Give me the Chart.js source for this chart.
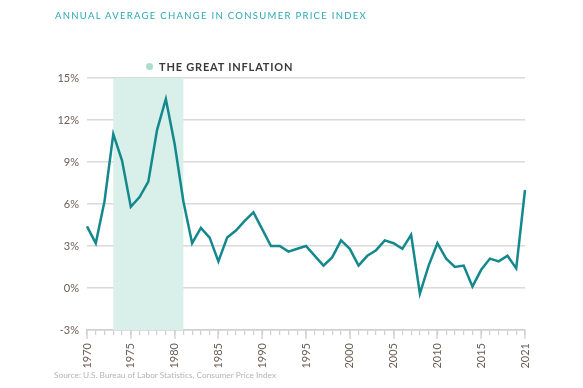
<!DOCTYPE html>
<html>
<head>
<meta charset="utf-8">
<script src="https://cdn.jsdelivr.net/npm/chart.js@4"></script>
<style>
  html, body { margin: 0; padding: 0; background: #fff; }
  #wrap { position: relative; width: 583px; height: 388px; overflow: hidden; }
  #grafico { position: absolute; left: 0; top: 0; }
  .titolo { position: absolute; left: 55px; top: 10px; font: 9.5px Lato, sans-serif; letter-spacing: 1.3px; color: #2aa8b6; white-space: nowrap; }
  .legenda { position: absolute; left: 146px; top: 60px; font: bold 11px Lato, sans-serif; letter-spacing: 0.8px; color: #3b3b3b; white-space: nowrap; }
  .legenda span { display: inline-block; width: 7px; height: 7px; border-radius: 50%; background: #a9ddd0; margin-right: 6px; vertical-align: 1px; }
  .fonte { position: absolute; left: 54px; top: 370px; font: 8.3px Lato, sans-serif; color: #b4b4b4; white-space: nowrap; }
</style>
</head>
<body>
<div id="wrap">
  <canvas id="grafico" width="583" height="388"></canvas>
  <div class="titolo">ANNUAL AVERAGE CHANGE IN CONSUMER PRICE INDEX</div>
  <div class="legenda"><span></span>THE GREAT INFLATION</div>
  <div class="fonte">Source: U.S. Bureau of Labor Statistics, Consumer Price Index</div>
</div>
<script>
// anni sull'asse (l'ultimo e' etichettato 2021 come nell'originale)
var anni = [];
for (var a = 1970; a <= 2019; a++) anni.push(String(a));
anni.push('2021');

var etichette = ['1970', '1975', '1980', '1985', '1990', '1995', '2000', '2005', '2010', '2015', '2021'];

var inflazione = [4.4, 3.2, 6.2, 11.0, 9.1, 5.8, 6.5, 7.6, 11.3, 13.5,
                  10.3, 6.2, 3.2, 4.3, 3.6, 1.9, 3.6, 4.1, 4.8, 5.4,
                  4.2, 3.0, 3.0, 2.6, 2.8, 3.0, 2.3, 1.6, 2.2, 3.4,
                  2.8, 1.6, 2.3, 2.7, 3.4, 3.2, 2.8, 3.8, -0.4, 1.6,
                  3.2, 2.1, 1.5, 1.6, 0.1, 1.3, 2.1, 1.9, 2.3, 1.4,
                  7.0];

var periodo = ['1973', '1981'];

// fascia della grande inflazione + tacche grandi sull'asse x
var fascia = {
    id: 'fascia',
    beforeDatasetsDraw: function (chart) {
        var ctx = chart.ctx;
        var x = chart.scales.x;
        var area = chart.chartArea;
        var x1 = x.getPixelForValue(anni.indexOf(periodo[0]));
        var x2 = x.getPixelForValue(anni.indexOf(periodo[1]));
        ctx.save();
        ctx.fillStyle = '#d9efe9';
        ctx.fillRect(x1, area.top, x2 - x1, area.bottom - area.top);
        ctx.restore();
    },
    afterDraw: function (chart) {
        var ctx = chart.ctx;
        var x = chart.scales.x;
        var area = chart.chartArea;
        ctx.save();
        ctx.strokeStyle = '#cfcfcf';
        ctx.lineWidth = 1.3;
        etichette.forEach(function (e) {
            var px = Math.round(x.getPixelForValue(anni.indexOf(e)));
            ctx.beginPath();
            ctx.moveTo(px, area.bottom);
            ctx.lineTo(px, area.bottom + 9);
            ctx.stroke();
        });
        ctx.restore();
    }
};

var ctx = document.getElementById('grafico');
var chart = new Chart(ctx, {
    type: 'line',
    data: {
        labels: anni,
        datasets: [{
            data: inflazione,
            borderColor: '#14898d',
            borderWidth: 2.5,
            pointRadius: 0,
            tension: 0,
            fill: false
        }]
    },
    options: {
        responsive: false,
        animation: false,
        layout: { padding: { top: 78, right: 58, left: 0, bottom: 0 } },
        plugins: { legend: { display: false }, tooltip: { enabled: false } },
        scales: {
            x: {
                offset: false,
                afterFit: function (s) { s.height = 58; },
                grid: { display: true, drawOnChartArea: false, drawTicks: true, tickLength: 5, color: '#cfcfcf', lineWidth: 1.2 },
                border: { display: true, color: '#cfcfcf', width: 1.5 },
                ticks: {
                    autoSkip: false,
                    minRotation: 90,
                    maxRotation: 90,
                    padding: 8,
                    color: '#6b6058',
                    font: { family: 'Lato', size: 11 },
                    callback: function (v, i) {
                        return etichette.indexOf(anni[i]) >= 0 ? anni[i] : '';
                    }
                }
            },
            y: {
                min: -3,
                max: 15,
                afterFit: function (s) { s.width = 87; },
                grid: { color: '#dadada', lineWidth: 1.5, drawTicks: false },
                border: { display: false },
                ticks: {
                    stepSize: 3,
                    padding: 8,
                    color: '#6b6058',
                    font: { family: 'Lato', size: 11 },
                    callback: function (v) { return v + '%'; }
                }
            }
        }
    },
    plugins: [fascia]
});
</script>
</body>
</html>
